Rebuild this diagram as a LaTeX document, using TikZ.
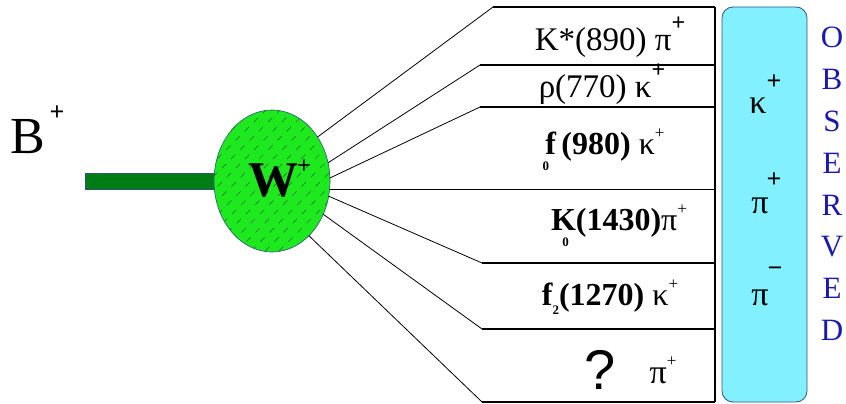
\documentclass[tikz,border=0pt]{standalone}
\usepackage{fontspec}
\setmainfont{Liberation Serif}
\newfontfamily\qfont{Liberation Sans}
\usetikzlibrary{shapes.geometric,positioning}
\definecolor{wgreen}{RGB}{30,232,30}
\definecolor{hatchgreen}{RGB}{20,110,40}
\definecolor{bargreen}{RGB}{0,125,20}
\definecolor{obscyan}{RGB}{130,240,255}
\definecolor{obsedge}{RGB}{50,80,130}
\definecolor{obsblue}{RGB}{25,25,175}
\newcommand{\bigsup}[1]{\raisebox{0.62em}{\fontsize{24}{24}\selectfont\bfseries #1}}
\newcommand{\smallsup}[1]{\raisebox{0.5em}{\fontsize{17}{17}\selectfont #1}}
\newcommand{\subunder}[2]{#1\llap{\raisebox{-0.5em}{\fontsize{13}{13}\selectfont #2}\hspace{0.22em}}}

\begin{document}
\begin{tikzpicture}[x=1pt, y=-1pt, every node/.style={inner sep=0pt, outer sep=0pt},
  row/.style={font=\fontsize{33}{33}\selectfont},
  brow/.style={font=\fontsize{32}{32}\selectfont\bfseries},
  rule/.style={line width=1.1pt},
  fan/.style={line width=0.8pt},
  obsletter/.style={text=obsblue, font=\fontsize{31}{31}\selectfont},
  particle/.style={font=\fontsize{34}{34}\selectfont}]
\useasboundingbox (0,0) rectangle (846,404);

\node[font=\fontsize{52}{52}\selectfont] (bmeson) at (28,137) {B};
\node[font=\fontsize{26}{26}\selectfont\bfseries] (bplus) at (57,113) {+};
\fill[bargreen] (85,173) rectangle (235,189);
\draw[obsedge, line width=0.5pt] (235,173) -- (85,173) -- (85,189) -- (235,189);

\node[ellipse, draw=obsedge, fill=wgreen, line width=0.6pt, minimum width=116pt, minimum height=142pt] (w) at (272,181) {};
\begin{scope}
\clip (272,181) ellipse (58 and 71);
\foreach \i in {0,14,...,420}
  \draw[hatchgreen, line width=0.5pt, dash pattern=on 6pt off 7pt] (\i-150,260) -- ++(160,-160);
\end{scope}
\node[font=\fontsize{50}{50}\selectfont\bfseries] (wlabel) at (273,181) {W};
\node[font=\fontsize{24}{24}\selectfont\bfseries] (wplus) at (304,167) {+};

\coordinate (c1) at (493,7);
\coordinate (c2) at (480,65);
\coordinate (c3) at (480,107);
\coordinate (c5) at (482,263);
\coordinate (c6) at (482,329);
\coordinate (c7) at (482,402);
\coordinate (tr) at (715,7);

\draw[fan] (w.44) -- (c1);
\draw[fan] (w.18) -- (c2);
\draw[fan] (w.3) -- (c3);
\draw[fan] (w.-15) -- (c5);
\draw[fan] (w.-33) -- (c6);
\draw[fan] (w.-56) -- (c7);

\draw[rule] (c1) -- (c1 -| tr);
\draw[rule] (c2) -- (c2 -| tr);
\draw[rule] (c3) -- (c3 -| tr);
\draw[rule] (w.-8) -- (w.-8 -| tr);
\draw[rule] (c5) -- (c5 -| tr);
\draw[rule] (c6) -- (c6 -| tr);
\draw[rule] (c7) -- (c7 -| tr);
\draw[rule] (tr) -- (c7 -| tr);

\node[row] (kstar) at (610,37) {K*(890) π\bigsup{+}};
\node[row] (rho) at (602,84) {ρ(770) κ\bigsup{+}};
\node[brow] (fzero) at (605,150) {\subunder{f}{0}\,(980) \mdseries κ\smallsup{+}};
\node[brow] (kzero) at (619,226) {\subunder{K}{0}(1430)\mdseries π\smallsup{+}};
\node[brow] (ftwo) at (610,297) {f\raisebox{-0.3em}{\fontsize{13}{13}\selectfont 2}(1270) \mdseries κ\smallsup{+}};
\node[font=\fontsize{56}{56}\selectfont\qfont] (unknown) at (600,370) {?};
\node[particle] (piq) at (663,370) {π\smallsup{+}};

\node[draw=obsedge, fill=obscyan, line width=0.8pt, rounded corners=11pt, minimum width=85pt, minimum height=395pt] (obs) at (764.5,204.5) {};
\node[particle] (kobs) at (758,106) {κ};
\node[font=\fontsize{26}{26}\selectfont\bfseries] (kobsplus) at (774,82) {+};
\node[particle] (piplus) at (760,206) {π};
\node[font=\fontsize{26}{26}\selectfont\bfseries] (piplussign) at (774,180) {+};
\node[particle] (piminus) at (760,298) {π};
\node[font=\fontsize{26}{26}\selectfont\bfseries] (piminussign) at (775,272) {−};

\node[obsletter] (o) at (832,37) {O};
\node[obsletter] (b) at (832,79) {B};
\node[obsletter] (s) at (832,121) {S};
\node[obsletter] (e) at (832,163) {E};
\node[obsletter] (r) at (832,205) {R};
\node[obsletter] (v) at (832,247) {V};
\node[obsletter] (e2) at (832,288) {E};
\node[obsletter] (d) at (832,330) {D};
\end{tikzpicture}
\end{document}
